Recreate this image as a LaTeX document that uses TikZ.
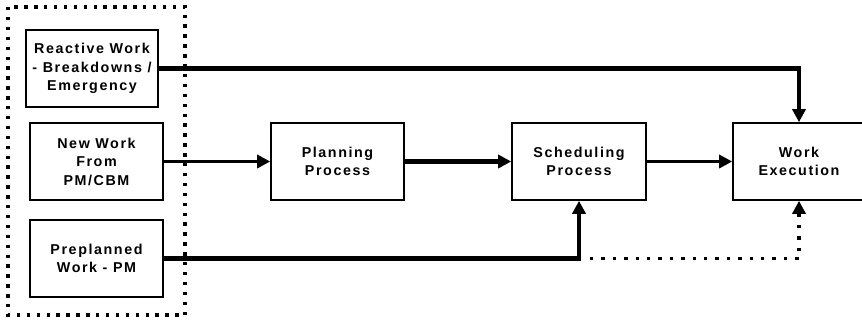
\documentclass[tikz,border=0pt]{standalone}
\usepackage{fontspec}
\setmainfont{Liberation Sans}[LetterSpace=11]
\usetikzlibrary{arrows.meta}

\tikzset{
  block/.style={draw, line width=1.6pt, rectangle, align=center,
    minimum width=132pt, minimum height=77pt, inner sep=0pt,
    font=\fontsize{14.3}{18.5}\selectfont\bfseries},
  flow/.style={line width=4.2pt, -{Triangle[length=13pt,width=13pt]}},
  thinflow/.style={line width=3.4pt, -{Triangle[length=13pt,width=13pt]}},
  dotflow/.style={line width=3.4pt, dash pattern=on 3.4pt off 8pt,
    -{Triangle[length=13pt,width=13pt]}},
  groupbox/.style={line width=3.4pt, dash pattern=on 3.4pt off 6.5pt}
}

\begin{document}
\begin{tikzpicture}[x=1pt, y=-1pt]
  \useasboundingbox (0,0) rectangle (862,322);
  \clip (0,0) rectangle (862,322);

  % sources of work, grouped by a dotted frame
  \draw[groupbox] (8,7) rectangle (185,315);
  \node[block] (react) at (92,68.5)   {Reactive Work\\- Breakdowns /\\Emergency};
  \node[block, minimum width=133pt] (new) at (96.5,161.5) {New Work\\From\\PM/CBM};
  \node[block, minimum width=133pt] (pre) at (96.5,258.5) {Preplanned\\Work - PM};

  % process chain
  \node[block, minimum width=133pt] (plan)  at (337.5,161.5) {Planning\\Process};
  \node[block, minimum width=134pt] (sched) at (579,161.5)   {Scheduling\\Process};
  \node[block] (exec) at (799,161.5) {Work\\Execution};

  % connectors
  \draw[flow] (react.east) -| (exec.north);
  \draw[thinflow] (new.east) -- (plan.west);
  \draw[flow] (plan.east) -- (sched.west);
  \draw[thinflow] (sched.east) -- (exec.west);
  \coordinate (split) at (sched.south |- pre.east);
  \draw[flow] (pre.east) -| (sched.south);
  \draw[dotflow] ([xshift=11pt]split) -| (exec.south);
\end{tikzpicture}
\end{document}
